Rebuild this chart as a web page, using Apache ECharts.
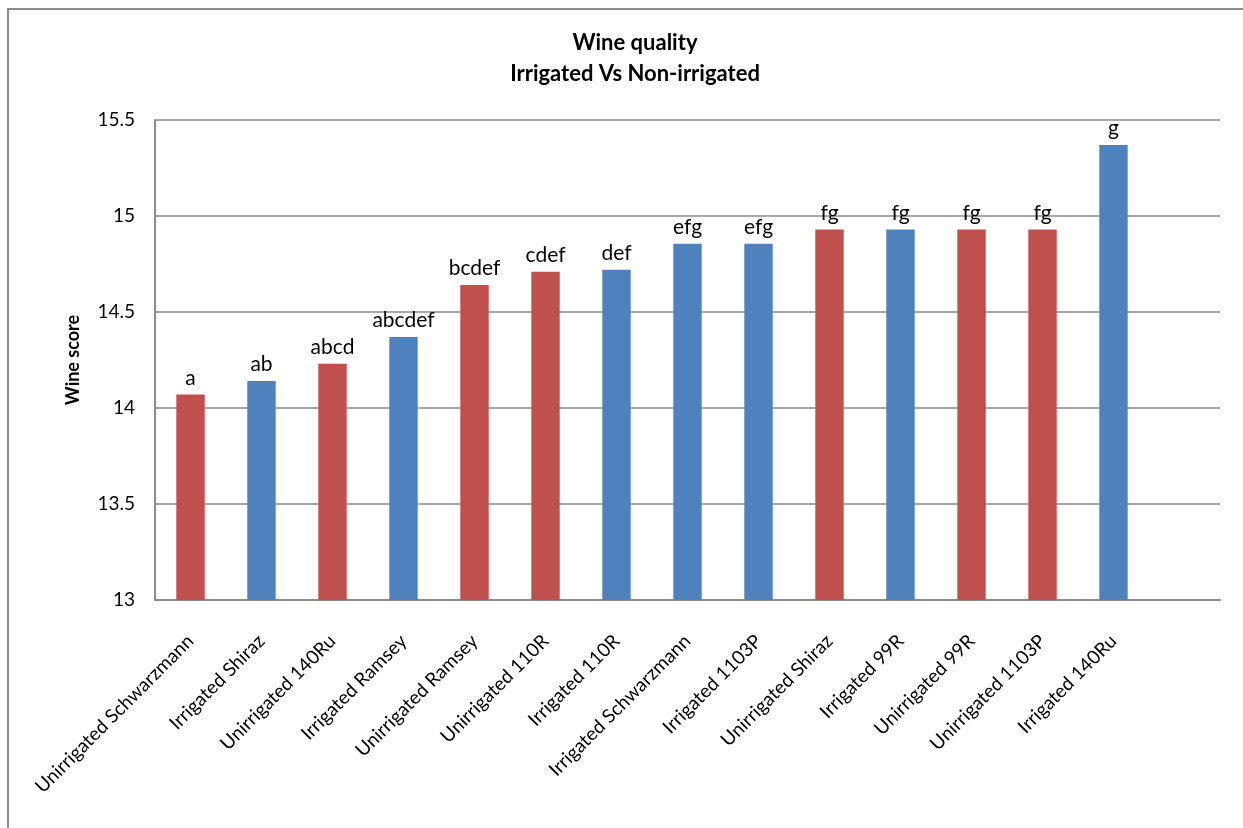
<!DOCTYPE html>
<html><head><meta charset="utf-8">
<script src="https://cdn.jsdelivr.net/npm/echarts@6/dist/echarts.min.js"></script>
<style>html,body{margin:0;padding:0;background:#fff}#c{width:1243px;height:828px}</style>
</head><body><div id="c"></div>
<script>
const categories = ["Unirrigated Schwarzmann","Irrigated Shiraz","Unirrigated 140Ru","Irrigated Ramsey","Unirrigated Ramsey","Unirrigated 110R","Irrigated 110R","Irrigated Schwarzmann","Irrigated 1103P","Unirrigated Shiraz","Irrigated 99R","Unirrigated 99R","Unirrigated 1103P","Irrigated 140Ru",""];
const scores = [14.07,14.14,14.23,14.37,14.64,14.71,14.72,14.855,14.855,14.93,14.93,14.93,14.93,15.37,null];
const letters = ["a","ab","abcd","abcdef","bcdef","cdef","def","efg","efg","fg","fg","fg","fg","g",""];
const yTicks = {min:13, max:15.5, interval:0.5};

const chart = echarts.init(document.getElementById('c'), null, {renderer:'canvas'});
const FONT = 'Lato, "Open Sans", sans-serif';
chart.setOption({
  animation:false,
  backgroundColor:'#fff',
  title:{
    text:'Wine quality\nIrrigated Vs Non-irrigated',
    left:630, top:22, textAlign:'center',
    textStyle:{fontFamily:FONT, fontWeight:'bold', fontSize:22, lineHeight:31, color:'#000'}
  },
  graphic:[
    {type:'polyline', shape:{points:[[8,828],[8,9],[1243,9]]}, style:{stroke:'#8c8c8c', lineWidth:2, fill:null}}
  ],
  grid:{left:155, right:23, top:120, bottom:228, containLabel:false},
  xAxis:{
    type:'category', data:categories,
    axisLine:{lineStyle:{color:'#8c8c8c', width:2}},
    axisTick:{show:false},
    axisLabel:{rotate:45, interval:0, margin:38, fontFamily:FONT, fontSize:19, color:'#000'}
  },
  yAxis:{
    type:'value', min:yTicks.min, max:yTicks.max, interval:yTicks.interval,
    name:'Wine score', nameLocation:'middle', nameGap:73, nameRotate:90,
    nameTextStyle:{fontFamily:FONT, fontWeight:'bold', fontSize:18, color:'#000'},
    axisLine:{show:true, lineStyle:{color:'#8c8c8c', width:2}},
    axisTick:{show:false},
    splitLine:{lineStyle:{color:'#8c8c8c', width:1.5}},
    axisLabel:{margin:20, fontFamily:FONT, fontSize:19, color:'#000'}
  },
  series:[{
    type:'bar', data:scores, barWidth:'40%',
    itemStyle:{color:p => p.name.indexOf('Irrigated')===0 ? '#4F81BD' : '#C0504D'},
    label:{show:true, position:'top', distance:6, fontFamily:FONT, fontSize:21, color:'#000',
      formatter:p => letters[p.dataIndex]}
  }]
});
</script></body></html>
